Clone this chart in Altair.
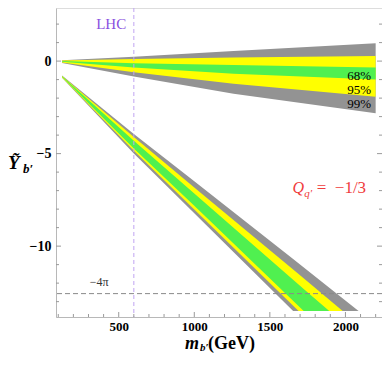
import altair as alt
import pandas as pd

# ---------------- data ----------------
# upper band (vertical edges at sample masses, GeV)
up_m    = [125, 600, 1260, 2200]
up99_hi = [0.05, 0.23, 0.55, 0.96]
up95_hi = [0.03, 0.11, 0.20, 0.28]
up68_hi = [0.01, -0.12, -0.21, -0.34]
up68_lo = [-0.04, -0.34, -0.69, -1.00]
up95_lo = [-0.07, -0.60, -1.22, -1.93]
up99_lo = [-0.10, -0.83, -1.76, -2.82]

# lower band (cut off at the bottom of the plotted range)
lo99_m  = [125, 600, 1000, 1654, 2087]
lo99_hi = [-0.78, -3.94, -6.50, -10.70, -13.5]
lo99_lo = [-0.90, -5.00, -8.22, -13.5, -13.5]
lo95_m  = [125, 600, 1000, 1690, 1982]
lo95_hi = [-0.80, -4.10, -6.83, -11.51, -13.5]
lo95_lo = [-0.88, -4.85, -8.02, -13.5, -13.5]
lo68_m  = [125, 600, 1000, 1724, 1893]
lo68_hi = [-0.82, -4.30, -7.15, -12.31, -13.5]
lo68_lo = [-0.86, -4.72, -7.82, -13.5, -13.5]

lhc_mass = [600]
pert_limit = [-12.566]          # -4*pi

x_major = [500, 1000, 1500, 2000]
x_minor = [m for m in range(100, 2201, 100) if m not in x_major]
y_major = [-10, -5, 0]
y_minor = [v for v in range(-13, 3) if v not in y_major]

pct_labels = ["68%", "95%", "99%"]
pct_m = [2170, 2170, 2170]
pct_y = [-0.81, -1.58, -2.34]

# ---------------- styling ----------------
GRAY = "#939393"
YELLOW = "#ffff00"
GREEN = "#50f050"
FRAME = "#b8b8b8"
TICK = "#9a9a9a"
SERIF = "Liberation Serif"

W, H = 326, 309
xs = alt.Scale(domain=[85, 2242], nice=False, zero=False)
ys = alt.Scale(domain=[-13.83, 2.87], nice=False, zero=False)


def band_df(parts):
    rows = []
    for grp, ms, his, los in parts:
        for m, hi, lo in zip(ms, his, los):
            rows.append({"m": m, "hi": hi, "lo": lo, "grp": grp})
    return pd.DataFrame(rows)


df99 = band_df([("up", up_m, up99_hi, up99_lo), ("low", lo99_m, lo99_hi, lo99_lo)])
df95 = band_df([("up", up_m, up95_hi, up95_lo), ("low", lo95_m, lo95_hi, lo95_lo)])
df68 = band_df([("up", up_m, up68_hi, up68_lo), ("low", lo68_m, lo68_hi, lo68_lo)])

xaxis = alt.Axis(values=x_major, ticks=False, grid=False, domainColor=FRAME,
                 labelFont=SERIF, labelFontWeight="bold", labelFontSize=13,
                 labelColor="black", labelPadding=3, title=None, format="d")
yaxis = alt.Axis(values=y_major, ticks=False, grid=False, domainColor=FRAME,
                 labelFont=SERIF, labelFontWeight="bold", labelFontSize=14,
                 labelColor="black", labelPadding=5, title=None, format="d")

X = lambda f: alt.X(f, scale=xs, axis=xaxis)
Y = lambda f: alt.Y(f, scale=ys, axis=yaxis)


def band_layer(df, color):
    return alt.Chart(df).mark_area(color=color, opacity=1).encode(
        x=X("m:Q"), y=Y("hi:Q"), y2="lo:Q", detail="grp:N")


layers = [band_layer(df99, GRAY), band_layer(df95, YELLOW), band_layer(df68, GREEN)]

# reference lines
layers.append(alt.Chart(pd.DataFrame({"m": lhc_mass})).mark_rule(
    color="#c0a4f2", strokeDash=[4, 3], strokeWidth=1).encode(x=X("m:Q")))
layers.append(alt.Chart(pd.DataFrame({"hi": pert_limit})).mark_rule(
    color="#8a8a8a", strokeDash=[5, 3], strokeWidth=1).encode(y=Y("hi:Q")))


# inward frame ticks
def xticks(vals, ln):
    return alt.Chart(pd.DataFrame({"m": vals})).mark_rule(color=TICK, strokeWidth=1).encode(
        x=X("m:Q"), y=alt.value(H), y2=alt.value(H - ln))


def yticks(vals, ln, right=False):
    x0 = W if right else 0
    x1 = W - ln if right else ln
    return alt.Chart(pd.DataFrame({"hi": vals})).mark_rule(color=TICK, strokeWidth=1).encode(
        y=Y("hi:Q"), x=alt.value(x0), x2=alt.value(x1))


layers += [xticks(x_minor, 3), xticks(x_major, 5),
           yticks(y_minor, 3), yticks(y_major, 5),
           yticks(y_minor, 3, True), yticks(y_major, 5, True)]

# percentage labels
layers.append(alt.Chart(pd.DataFrame({"t": pct_labels, "m": pct_m, "hi": pct_y})).mark_text(
    font=SERIF, fontSize=13, color="black", align="right", baseline="middle").encode(
    x=X("m:Q"), y=Y("hi:Q"), text="t:N"))


def data_text(txt, m, v, size, color, style="normal", weight="normal", align="left", baseline="alphabetic"):
    return alt.Chart(pd.DataFrame({"t": [txt], "m": [m], "hi": [v]})).mark_text(
        font=SERIF, fontSize=size, color=color, fontStyle=style, fontWeight=weight,
        align=align, baseline=baseline).encode(x=X("m:Q"), y=Y("hi:Q"), text="t:N")


layers.append(data_text("LHC", 450, 2.03, 15, "#8a4fe0", align="center", baseline="middle"))
layers.append(data_text("\u22124\u03c0", 370, -11.92, 12, "#333333", align="center", baseline="middle"))
RED = "#f03c3c"
layers.append(data_text("Q", 1650, -7.15, 16, RED, style="italic"))
layers.append(data_text("q\u2032", 1727, -7.37, 11, RED, style="italic"))
layers.append(data_text("=\u00a0 \u22121/3", 1810, -7.15, 17, RED))


def px_text(txt, x, y, size, style="normal", weight="bold"):
    return alt.Chart(pd.DataFrame({"t": [txt]})).mark_text(
        font=SERIF, fontSize=size, color="black", fontStyle=style, fontWeight=weight,
        align="left", baseline="alphabetic").encode(
        x=alt.value(x), y=alt.value(y), text="t:N")


# axis titles
layers.append(px_text("\u1ef8", -48, 161, 19, style="italic"))
layers.append(px_text("b\u2032", -33, 165, 13, style="italic"))
layers.append(px_text("m", 129, 341, 18, style="italic"))
layers.append(px_text("b\u2032", 144, 343, 11, style="italic"))
layers.append(px_text("(GeV)", 152, 341, 18))

chart = alt.layer(*layers).properties(
    width=W, height=H,
    autosize=alt.AutoSizeParams(type="none"),
    padding={"left": 48, "top": 0, "right": 0, "bottom": 36},
).configure_view(stroke=None).configure(background="white")

chart.save("out.html", embed_options={"renderer": "svg", "actions": False})
